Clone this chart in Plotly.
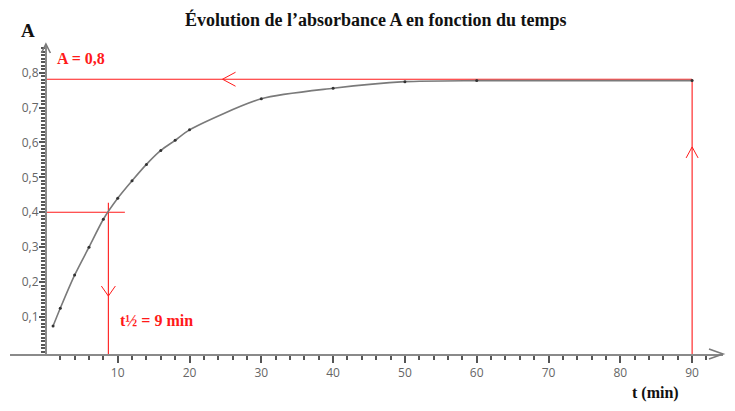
import plotly.graph_objects as go

# ---- data ----
t_min = [1, 2, 4, 6, 8, 10, 12, 14, 16, 18, 20, 30, 40, 50, 60, 90]
absorbance = [0.074, 0.125, 0.22, 0.30, 0.38, 0.44, 0.49, 0.537, 0.577, 0.606,
              0.636, 0.725, 0.755, 0.774, 0.777, 0.777]
x_tick_vals = [10, 20, 30, 40, 50, 60, 70, 80, 90]
x_tick_text = ["10", "20", "30", "40", "50", "60", "70", "80", "90"]
y_tick_vals = [0.1, 0.2, 0.3, 0.4, 0.5, 0.6, 0.7, 0.8]
y_tick_text = ["0,1", "0,2", "0,3", "0,4", "0,5", "0,6", "0,7", "0,8"]
A_final = 0.781          # red plateau line
A_half = 0.4             # half of final absorbance
t_half = 8.7             # where the red vertical line is drawn
t_final = 90
title_text = "Évolution de l’absorbance A en fonction du temps"
label_A = "A = 0,8"
label_thalf = "t½ = 9 min"

# ---- geometry (page is offset by the browser's 8px body margin) ----
OFF = 8
W, H = 735 - 2 * OFF, 411 - 2 * OFF
# plot area wanted on the page: x 10..723, y 45..354
ML, MT = 10 - OFF, 45 - OFF
MR = W - (723 - OFF)
MB = H - (354 - OFF)
x_range = [-5, 94.3]
y_range = [-0.006, 0.879]
pw, ph = W - ML - MR, H - MT - MB
sx = pw / (x_range[1] - x_range[0])   # px per minute
sy = ph / (y_range[1] - y_range[0])   # px per absorbance unit
y_axis_pos = (0 - x_range[0]) / (x_range[1] - x_range[0])

def paper_x(page_x):
    return (page_x - OFF - ML) / pw

def paper_y(page_y):
    return 1 - (page_y - OFF - MT) / ph

RED = "#ff1a1a"
GREY = "#8a8a8a"

def chevron(xt, yt, direction, length, half, kx=None, ky=None):
    """open arrowhead (two strokes) with tip at (xt, yt); sizes in px"""
    kx = kx or sx
    ky = ky or sy
    if direction == "left":
        xs = [xt + length / kx, xt, xt + length / kx]
        ys = [yt + half / ky, yt, yt - half / ky]
    elif direction == "right":
        xs = [xt - length / kx, xt, xt - length / kx]
        ys = [yt + half / ky, yt, yt - half / ky]
    elif direction == "up":
        xs = [xt - half / kx, xt, xt + half / kx]
        ys = [yt - length / ky, yt, yt - length / ky]
    else:  # down
        xs = [xt - half / kx, xt, xt + half / kx]
        ys = [yt + length / ky, yt, yt + length / ky]
    return xs, ys

fig = go.Figure()

def add_line(xs, ys, color, width):
    fig.add_trace(go.Scatter(x=xs, y=ys, mode="lines", cliponaxis=False,
                             line=dict(color=color, width=width),
                             hoverinfo="skip", showlegend=False))

# red guide lines
add_line([0, t_final], [A_final, A_final], RED, 1.1)
add_line([t_final, t_final], [y_range[0], A_final], RED, 1.1)
add_line([0, t_half + 2.3], [A_half, A_half], RED, 1.1)
add_line([t_half, t_half], [y_range[0], A_half + 0.027], RED, 1.1)

# red arrowheads
cx, cy = chevron(24.6, A_final, "left", 13, 7)
add_line(cx, cy, RED, 1)
cx, cy = chevron(t_final, 0.587, "up", 11, 6)
add_line(cx, cy, RED, 1)
cx, cy = chevron(t_half, 0.16, "down", 10, 7)
add_line(cx, cy, RED, 1)

# axis arrowheads as unclipped paper shapes
def add_paper_chevron(xs, ys):
    path = "M {} {} L {} {} L {} {}".format(xs[0], ys[0], xs[1], ys[1], xs[2], ys[2])
    fig.add_shape(type="path", xref="paper", yref="paper", path=path,
                  line=dict(color="#7a7a7a", width=1.6), layer="above")

cx, cy = chevron(1.0, 0.0, "right", 14, 5, kx=pw, ky=ph)
add_paper_chevron(cx, cy)
cx, cy = chevron(y_axis_pos, 1.0 + 1 / ph, "up", 9, 4.5, kx=pw, ky=ph)
add_paper_chevron(cx, cy)

# data curve
fig.add_trace(go.Scatter(
    x=t_min, y=absorbance, mode="lines+markers",
    line=dict(color="#7a7a7a", width=1.6, shape="spline", smoothing=0.7),
    marker=dict(color="#333333", size=3),
    showlegend=False, cliponaxis=False))

tickfont = dict(family="Open Sans", size=12, color="#666666")

fig.update_layout(
    width=W, height=H,
    margin=dict(l=ML, r=MR, t=MT, b=MB, autoexpand=False),
    paper_bgcolor="white", plot_bgcolor="white",
    showlegend=False,
    xaxis=dict(
        range=x_range, showgrid=False, zeroline=False, automargin=False,
        showline=True, linecolor=GREY, linewidth=2,
        tickmode="array", tickvals=x_tick_vals, ticktext=x_tick_text,
        ticks="outside", ticklen=7, tickwidth=1.5, tickcolor="#555555",
        tickfont=tickfont,
        minor=dict(tickmode="array",
                   tickvals=[v for v in range(2, 94, 2) if v % 10],
                   ticks="outside", ticklen=4, tickwidth=1.5,
                   tickcolor="#555555"),
    ),
    yaxis=dict(
        range=y_range, showgrid=False, zeroline=False, automargin=False,
        anchor="free", position=y_axis_pos,
        showline=True, linecolor=GREY, linewidth=2,
        tickmode="array", tickvals=y_tick_vals, ticktext=y_tick_text,
        ticks="outside", ticklen=6, tickwidth=1.5, tickcolor="#555555",
        tickfont=tickfont, ticklabelstandoff=-2,
        minor=dict(dtick=0.01, tick0=0, ticks="outside", ticklen=4,
                   tickwidth=1.5, tickcolor="#555555"),
    ),
)

serif = "Liberation Serif"
fig.add_annotation(xref="paper", yref="paper", x=paper_x(376), y=paper_y(20),
                   text="<b>" + title_text + "</b>", showarrow=False,
                   font=dict(family=serif, size=18, color="#111111"),
                   xanchor="center", yanchor="middle")
fig.add_annotation(xref="paper", yref="paper", x=paper_x(28), y=paper_y(30),
                   text="<b>A</b>", showarrow=False,
                   font=dict(family=serif, size=19, color="#111111"),
                   xanchor="center", yanchor="middle")
fig.add_annotation(xref="paper", yref="paper", x=paper_x(655), y=paper_y(402),
                   text="<b>t (min)</b>", showarrow=False,
                   font=dict(family=serif, size=16, color="#111111"),
                   xanchor="center", yanchor="bottom", yshift=-2)
fig.add_annotation(x=1.3, y=A_final + 0.06, text="<b>" + label_A + "</b>",
                   showarrow=False, xanchor="left", yanchor="middle",
                   font=dict(family=serif, size=16, color=RED))
fig.add_annotation(x=t_half + 1.3, y=0.09, text="<b>" + label_thalf + "</b>",
                   showarrow=False, xanchor="left", yanchor="middle",
                   font=dict(family=serif, size=16, color=RED))

fig.write_html("out.html")
